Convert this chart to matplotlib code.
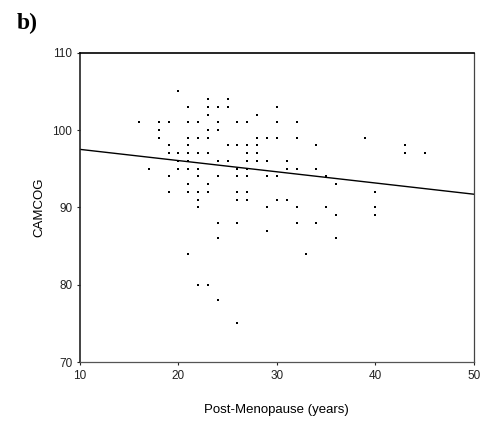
import matplotlib
matplotlib.use("Agg")
import matplotlib.pyplot as plt

# Data: years post-menopause vs CAMCOG score
years = [16, 17,
         18, 18, 18,
         19, 19, 19, 19, 19,
         20, 20, 20, 20,
         21, 21, 21, 21, 21, 21, 21, 21, 21, 21,
         22, 22, 22, 22, 22, 22, 22, 22, 22,
         23, 23, 23, 23, 23, 23, 23, 23, 23,
         24, 24, 24, 24, 24, 24, 24, 24,
         25, 25, 25, 25,
         26, 26, 26, 26, 26, 26, 26, 26,
         27, 27, 27, 27, 27, 27, 27, 27,
         28, 28, 28, 28, 28,
         29, 29, 29, 29, 29,
         30, 30, 30, 30, 30,
         31, 31, 31,
         32, 32, 32, 32, 32,
         33,
         34, 34, 34,
         35, 35,
         36, 36, 36,
         39,
         40, 40, 40,
         43, 43,
         45]
camcog = [101, 95,
          101, 100, 99,
          101, 98, 97, 94, 92,
          105, 97, 96, 95,
          103, 101, 99, 98, 97, 96, 95, 93, 92, 84,
          101, 99, 97, 95, 94, 92, 91, 90, 80,
          104, 103, 102, 100, 99, 97, 93, 92, 80,
          103, 101, 100, 96, 94, 88, 86, 78,
          104, 103, 98, 96,
          101, 98, 95, 94, 92, 91, 88, 75,
          101, 98, 97, 96, 95, 94, 92, 91,
          102, 99, 98, 97, 96,
          99, 96, 94, 90, 87,
          103, 101, 99, 94, 91,
          96, 95, 91,
          101, 99, 95, 90, 88,
          84,
          98, 95, 88,
          94, 90,
          93, 89, 86,
          99,
          92, 90, 89,
          98, 97,
          97]

# Regression line endpoints
fit_x = [10, 50]
fit_y = [97.5, 91.7]

x_ticks = [10, 20, 30, 40, 50]
y_ticks = [70, 80, 90, 100, 110]

plt.rcParams['font.family'] = ['Liberation Sans', 'DejaVu Sans']

fig = plt.figure(figsize=(4.84, 4.23), dpi=100)
ax = fig.add_axes([0.165, 0.1442, 0.814, 0.7312])

ax.plot(years, camcog, linestyle='none', marker='s', markersize=1.6,
        color='black', markeredgewidth=0)
ax.plot(fit_x, fit_y, color='black', linewidth=1.0)

ax.set_xlim(10, 50)
ax.set_ylim(70, 110)
ax.set_xticks(x_ticks)
ax.set_yticks(y_ticks)
ax.tick_params(direction='out', length=2.5, width=0.8, labelsize=8.5, pad=3,
               colors='#222222')

ax.spines['top'].set_linewidth(1.2)
ax.spines['top'].set_color('black')
ax.spines['left'].set_linewidth(1.2)
ax.spines['left'].set_color('#222222')
ax.spines['bottom'].set_linewidth(0.9)
ax.spines['bottom'].set_color('#555555')
ax.spines['right'].set_linewidth(0.9)
ax.spines['right'].set_color('#444444')

ax.set_xlabel('Post-Menopause (years)', fontsize=9.5, labelpad=16)
ax.set_ylabel('CAMCOG', fontsize=9.5, labelpad=5)

fig.text(0.035, 0.945, 'b)', fontsize=17, fontweight='bold',
         family=['Liberation Serif', 'DejaVu Serif'], va='center', ha='left')

fig.savefig('out.png', dpi=100)
